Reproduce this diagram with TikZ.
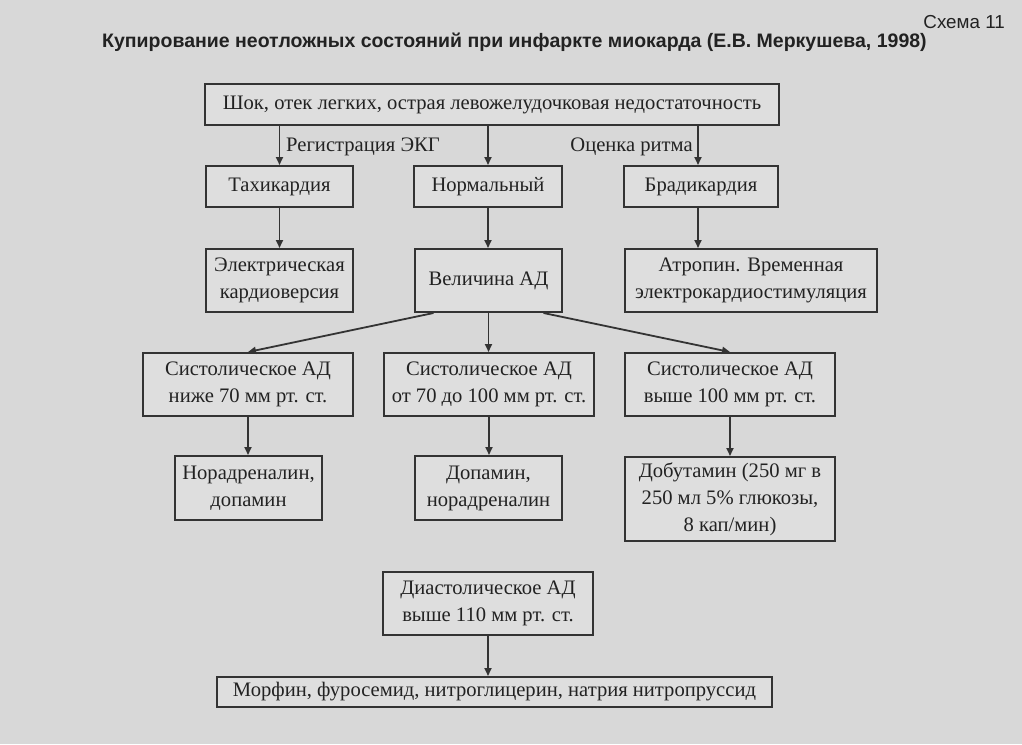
\documentclass[tikz,border=0pt]{standalone}
\usepackage{fontspec}
\setmainfont{Liberation Serif}
\newfontfamily\titlefont{Liberation Sans}
\usetikzlibrary{arrows.meta}
\definecolor{pagebg}{HTML}{D8D8D8}
\definecolor{boxbg}{HTML}{DEDEDE}
\definecolor{ink}{HTML}{222222}
\definecolor{lineink}{HTML}{333333}
\tikzset{
  stepbox/.style={draw=lineink, line width=2pt, fill=boxbg, text=ink, inner sep=0pt,
    align=center, font=\fontsize{20.6}{27}\selectfont},
  conn/.style={draw=lineink, line width=1.8pt, -{Triangle[length=8pt,width=7pt]}},
  lbl/.style={text=ink, inner sep=0pt, font=\fontsize{20.6}{27}\selectfont},
}
\begin{document}
\begin{tikzpicture}[x=1pt,y=-1pt]
\fill[pagebg] (0,0) rectangle (1022,744);
\useasboundingbox (0,0) rectangle (1022,744);

\node[text=ink, anchor=east, inner sep=0pt, font=\titlefont\fontsize{18.8}{22}\selectfont] (schema) at (1005,22) {Схема 11};
\node[text=ink, anchor=west, inner sep=0pt, font=\titlefont\bfseries\fontsize{19.5}{22}\selectfont] (title) at (102,42) {Купирование неотложных состояний при инфаркте миокарда (Е.В. Меркушева, 1998)};

\node[stepbox, minimum width=574pt, minimum height=41pt] (top) at (492,104.5) {Шок, отек легких, острая левожелудочковая недостаточность};

\node[stepbox, minimum width=147pt, minimum height=41pt] (tach) at (279.5,186.5) {Тахикардия};
\node[stepbox, minimum width=148pt, minimum height=41pt] (norm) at (488,186.5) {Нормальный};
\node[stepbox, minimum width=154pt, minimum height=41pt] (brady) at (701,186.5) {Брадикардия};

\node[stepbox, minimum width=147pt, minimum height=63pt] (elec) at (279.5,280.5) {Электрическая\\кардиоверсия};
\node[stepbox, minimum width=147pt, minimum height=63pt] (vel) at (488.5,280.5) {Величина АД};
\node[stepbox, minimum width=252pt, minimum height=63pt] (atro) at (751,280.5) {Атропин. Временная\\электрокардиостимуляция};

\node[stepbox, minimum width=210pt, minimum height=63pt] (s1) at (248,384.5) {Систолическое АД\\ниже 70 мм рт. ст.};
\node[stepbox, minimum width=210pt, minimum height=63pt] (s2) at (489,384.5) {Систолическое АД\\от 70 до 100 мм рт. ст.};
\node[stepbox, minimum width=210pt, minimum height=63pt] (s3) at (730,384.5) {Систолическое АД\\выше 100 мм рт. ст.};

\node[stepbox, minimum width=147pt, minimum height=64pt] (nor) at (248.5,488) {Норадреналин,\\допамин};
\node[stepbox, minimum width=147pt, minimum height=64pt] (dop) at (488.5,488) {Допамин,\\норадреналин};
\node[stepbox, minimum width=210pt, minimum height=84pt] (dob) at (730,499) {Добутамин (250 мг в\\250 мл 5\% глюкозы,\\8 кап/мин)};

\node[stepbox, minimum width=210pt, minimum height=63pt] (dia) at (488,603.5) {Диастолическое АД\\выше 110 мм рт. ст.};
\node[stepbox, minimum width=555pt, minimum height=30pt] (mor) at (494.5,692) {Морфин, фуросемид, нитроглицерин, натрия нитропруссид};

\node[lbl, anchor=west] (lreg) at (286,147) {Регистрация ЭКГ};
\node[lbl, anchor=east] (lrhy) at (693,147) {Оценка ритма};

\draw[conn] (top.south -| tach.north) -- (tach.north);
\draw[conn] (top.south -| norm.north) -- (norm.north);
\draw[conn] ([xshift=-3pt]top.south -| brady.north) -- ([xshift=-3pt]brady.north);
\draw[conn] (tach.south) -- (elec.north);
\draw[conn] (norm.south) -- (norm.south |- vel.north);
\draw[conn] ([xshift=-3pt]brady.south) -- ([xshift=-3pt]brady.south |- atro.north);
\draw[conn] ([xshift=-55pt]vel.south) -- (s1.north);
\draw[conn] (vel.south) -- (vel.south |- s2.north);
\draw[conn] ([xshift=55pt]vel.south) -- (s3.north);
\draw[conn] (s1.south) -- (s1.south |- nor.north);
\draw[conn] (s2.south) -- (s2.south |- dop.north);
\draw[conn] (s3.south) -- (s3.south |- dob.north);
\draw[conn] (dia.south) -- (dia.south |- mor.north);
\end{tikzpicture}
\end{document}
